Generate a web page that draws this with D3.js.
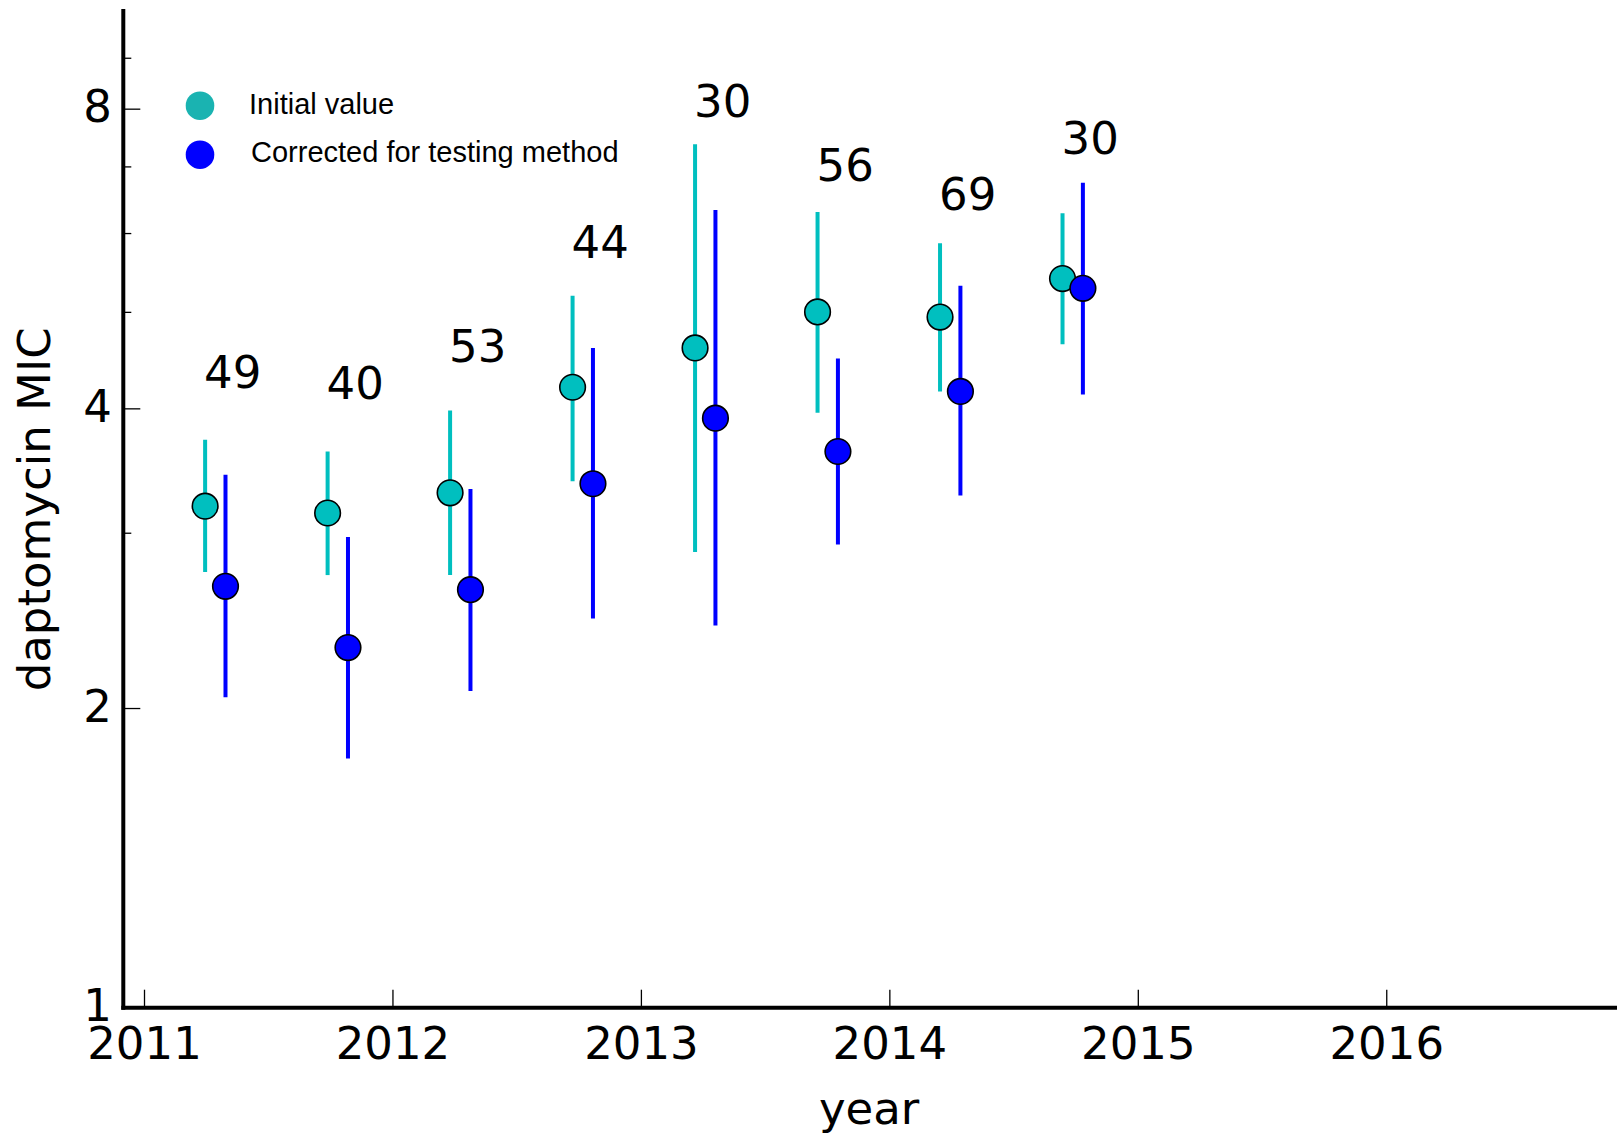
<!DOCTYPE html>
<html>
<head>
<meta charset="utf-8">
<script src="https://cdn.jsdelivr.net/npm/d3@7"></script>
<style>
  html, body { margin: 0; padding: 0; background: #fff; }
  svg { display: block; }
  .tick text { font-family: "DejaVu Sans", sans-serif; }
</style>
</head>
<body>
<script>
// Half-year sampling periods (decimal year of the "initial" marker)
const periods = [2011.246, 2011.739, 2012.232, 2012.725, 2013.218, 2013.711, 2014.204, 2014.697];
// Number of isolates in each period
const counts = [49, 40, 53, 44, 30, 56, 69, 30];

// Initial MIC value: geometric mean and interval
const initialMid  = [3.19, 3.14, 3.29, 4.20, 4.60, 5.00, 4.94, 5.40];
const initialLow  = [2.74, 2.72, 2.72, 3.38, 2.87, 3.96, 4.16, 4.64];
const initialHigh = [3.72, 3.62, 3.98, 5.19, 7.37, 6.30, 5.86, 6.28];

// MIC corrected for the testing method
const correctedMid  = [2.65, 2.30, 2.63, 3.36, 3.91, 3.62, 4.16, 5.28];
const correctedLow  = [2.05, 1.78, 2.08, 2.46, 2.42, 2.92, 3.27, 4.13];
const correctedHigh = [3.43, 2.97, 3.32, 4.60, 6.33, 4.49, 5.31, 6.74];

// Axis ticks
const yMajorTicks = [1, 2, 4, 8];
const yMinorTicks = [3, 5, 6, 7, 9];
const xTicks = [2011, 2012, 2013, 2014, 2015, 2016];

const seriesNames = ["Initial value", "Corrected for testing method"];

(function draw() {
  const W = 1618, H = 1135;
  const plotLeft = 123.3, plotRight = 1614, plotTop = 12.2, plotBottom = 1007.7;
  const dodge = 0.082;   // horizontal offset of the corrected series, in years

  const svg = d3.select("body").append("svg").attr("width", W).attr("height", H);

  const x = d3.scaleLinear().domain([2011 - 1 / 12, 2017 - 1 / 12]).range([plotLeft, plotRight]);
  const y = d3.scaleLog().domain([1, 10]).range([plotBottom, plotTop]);

  const fontTicks = 45;

  // y axis: major ticks with labels, minor ticks without
  const yAxisG = svg.append("g").attr("transform", `translate(${plotLeft},0)`)
    .call(d3.axisLeft(y).tickValues(yMajorTicks).tickFormat(d3.format("d"))
      .tickSizeInner(-17).tickSizeOuter(0).tickPadding(11.5));
  yAxisG.selectAll(".tick text").attr("font-size", fontTicks).attr("dy", "0.29em").attr("fill", "#000");
  yAxisG.selectAll(".tick line").attr("stroke", "#000").attr("stroke-width", 1.3);
  yAxisG.select(".domain").remove();

  const yMinorG = svg.append("g").attr("transform", `translate(${plotLeft},0)`)
    .call(d3.axisLeft(y).tickValues(yMinorTicks).tickFormat("").tickSizeInner(-8).tickSizeOuter(0));
  yMinorG.selectAll(".tick line").attr("stroke", "#000").attr("stroke-width", 1.3);
  yMinorG.select(".domain").remove();

  // x axis
  const xAxisG = svg.append("g").attr("transform", `translate(0,${plotBottom})`)
    .call(d3.axisBottom(x).tickValues(xTicks).tickFormat(d3.format("d"))
      .tickSizeInner(-18).tickSizeOuter(0).tickPadding(19.5));
  xAxisG.selectAll(".tick text").attr("font-size", fontTicks).attr("fill", "#000");
  xAxisG.selectAll(".tick line").attr("stroke", "#000").attr("stroke-width", 1.3);
  xAxisG.select(".domain").remove();

  // spines
  svg.append("line").attr("x1", plotLeft).attr("x2", plotLeft).attr("y1", 11).attr("y2", plotBottom)
    .attr("stroke", "#000").attr("stroke-width", 4).attr("stroke-linecap", "square");
  svg.append("line").attr("x1", plotLeft).attr("x2", 1615).attr("y1", plotBottom).attr("y2", plotBottom)
    .attr("stroke", "#000").attr("stroke-width", 4).attr("stroke-linecap", "square");

  // axis titles
  svg.append("text")
    .attr("transform", `translate(50,${(11 + plotBottom) / 2}) rotate(-90)`)
    .attr("text-anchor", "middle")
    .attr("font-family", "DejaVu Sans, sans-serif").attr("font-size", 45)
    .text("daptomycin MIC");
  svg.append("text")
    .attr("x", (plotLeft + 1615) / 2).attr("y", 1124)
    .attr("text-anchor", "middle")
    .attr("font-family", "DejaVu Sans, sans-serif").attr("font-size", 45)
    .text("year");

  // data series
  const series = [
    { color: "#00bfbf", offset: 0, mid: initialMid, low: initialLow, high: initialHigh },
    { color: "#0000ff", offset: dodge, mid: correctedMid, low: correctedLow, high: correctedHigh }
  ];

  series.forEach(s => {
    const rows = periods.map((p, i) => ({ t: p + s.offset, mid: s.mid[i], low: s.low[i], high: s.high[i] }));
    const g = svg.append("g");
    g.selectAll("line.err").data(rows).join("line").attr("class", "err")
      .attr("x1", d => x(d.t)).attr("x2", d => x(d.t))
      .attr("y1", d => y(d.low)).attr("y2", d => y(d.high))
      .attr("stroke", s.color).attr("stroke-width", 4);
    g.selectAll("circle").data(rows).join("circle")
      .attr("cx", d => x(d.t)).attr("cy", d => y(d.mid)).attr("r", 12.8)
      .attr("fill", s.color).attr("stroke", "#000").attr("stroke-width", 1.6);
  });

  // sample size labels above each period
  svg.append("g").selectAll("text").data(periods).join("text")
    .attr("x", p => x(p) - 1)
    .attr("y", (p, i) => y(Math.max(initialHigh[i], correctedHigh[i]) + 0.47))
    .attr("font-family", "DejaVu Sans, sans-serif").attr("font-size", fontTicks)
    .attr("fill", "#000")
    .text((p, i) => counts[i]);

  // legend
  const legendColors = ["#1ab3b1", "#0000ff"];
  const legendRows = [{ cy: 105.7, ty: 114.3 }, { cy: 154.7, ty: 162.3 }];
  const legend = svg.append("g");
  seriesNames.forEach((name, i) => {
    legend.append("circle").attr("cx", 200).attr("cy", legendRows[i].cy).attr("r", 14.3)
      .attr("fill", legendColors[i]);
    legend.append("text").attr("x", 249 + i * 2).attr("y", legendRows[i].ty)
      .attr("font-family", "Liberation Sans, Arial, sans-serif").attr("font-size", 29)
      .attr("fill", "#000").text(name);
  });
})();
</script>
</body>
</html>
